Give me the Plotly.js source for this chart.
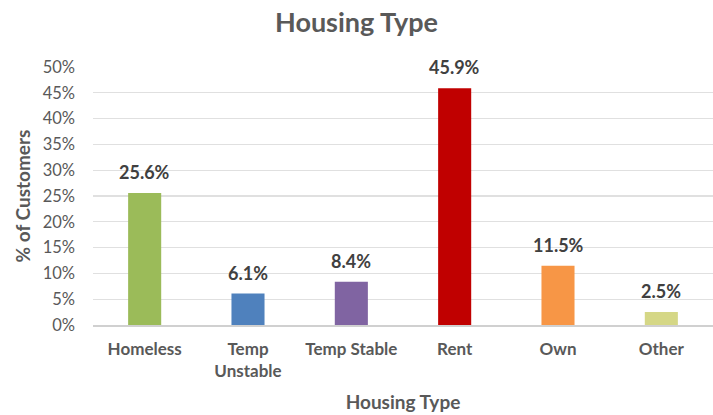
<!DOCTYPE html>
<html><head><meta charset="utf-8">
<script src="https://cdn.plot.ly/plotly-3.0.1.min.js"></script>
<style>html,body{margin:0;padding:0;background:#fff}</style>
</head><body><div id="chart" style="width:713px;height:415px"></div>
<script>
var categories = ["Homeless", "Temp<br>Unstable", "Temp Stable", "Rent", "Own", "Other"];
var values = [0.256, 0.061, 0.084, 0.459, 0.115, 0.025];
var labels = ["25.6%", "6.1%", "8.4%", "45.9%", "11.5%", "2.5%"];
var colors = ["#9BBB59", "#4F81BD", "#8064A2", "#C00000", "#F79646", "#D5D786"];
var FONT = "Lato, 'Open Sans', sans-serif";
var annotations = categories.map(function (c, i) {
  return {x: c, y: values[i], xref: "x", yref: "y", text: "<b>" + labels[i] + "</b>",
          showarrow: false, yanchor: "bottom", yshift: 8,
          font: {family: FONT, size: 18, color: "#404040"}};
});
Plotly.newPlot("chart", [{
  type: "bar", x: categories, y: values, marker: {color: colors},
  hoverinfo: "none"
}], {
  width: 713, height: 415,
  margin: {l: 93, r: 0, t: 67, b: 90},
  paper_bgcolor: "#fff", plot_bgcolor: "#fff",
  bargap: 0.68,
  annotations: annotations,
  title: {text: "<b>Housing Type</b>", x: 0.5, xanchor: "center", y: 0.945, yanchor: "middle",
          font: {family: FONT, size: 27, color: "#595959"}},
  xaxis: {showgrid: false, showline: true, linecolor: "#D0D0D0", linewidth: 1.5,
          tickfont: {family: FONT, size: 17, color: "#595959", weight: "bold"},
          ticks: "", ticklabelstandoff: 8,
          title: {text: "<b>Housing Type</b>", standoff: 15, font: {family: FONT, size: 19, color: "#595959"}}},
  yaxis: {range: [0, 0.5], dtick: 0.05, tickformat: ".0%", showgrid: true, gridcolor: "#E0E0E0", gridwidth: 1.3,
          zeroline: false, ticks: "", ticklabelstandoff: 17,
          tickfont: {family: FONT, size: 16.5, color: "#595959"},
          title: {text: "<b>% of Customers</b>", standoff: 6, font: {family: FONT, size: 19, color: "#595959"}}},
  showlegend: false
}, {displayModeBar: false, staticPlot: true});
</script></body></html>
